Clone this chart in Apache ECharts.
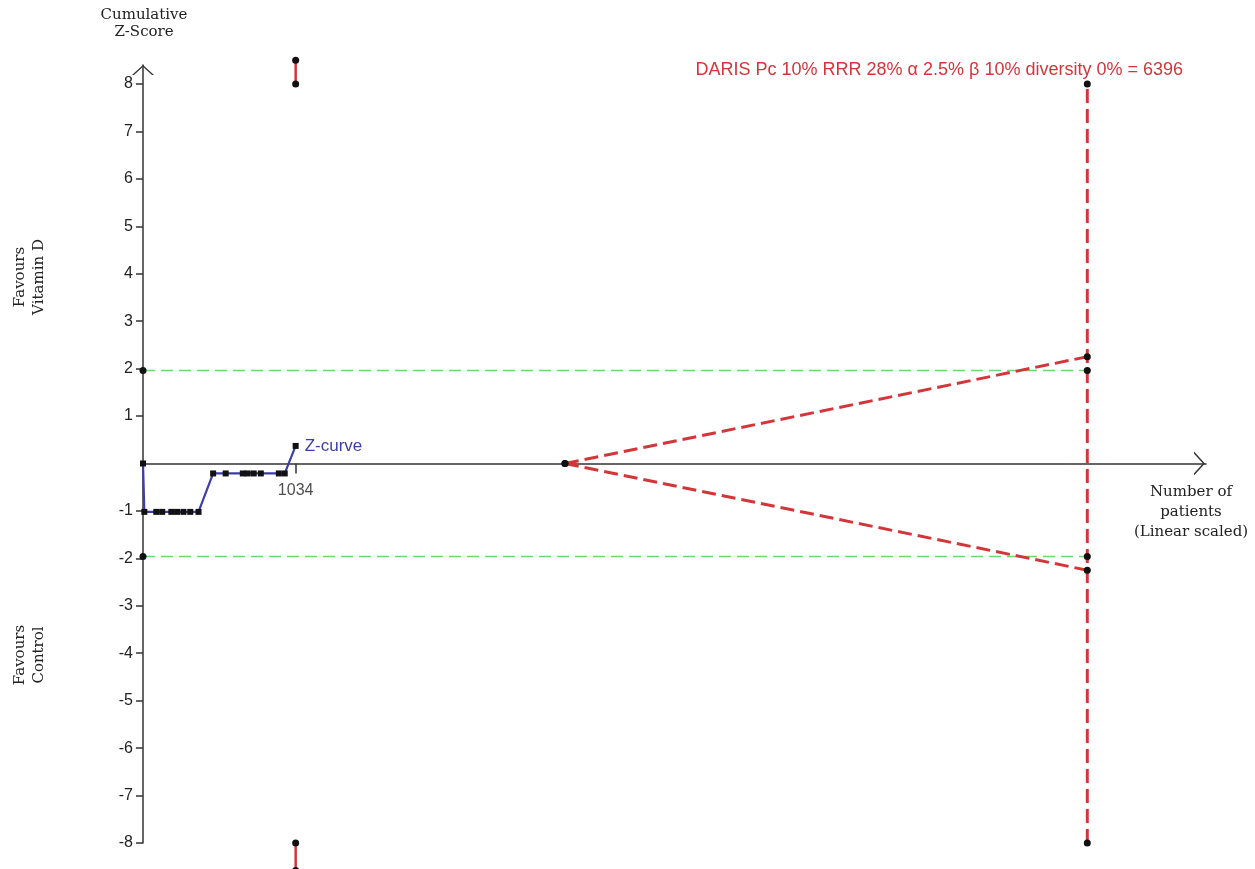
<!DOCTYPE html>
<html>
<head>
<meta charset="utf-8">
<script src="https://cdn.jsdelivr.net/npm/echarts@6/dist/echarts.min.js"></script>
<style>
  html, body { margin: 0; padding: 0; background: #ffffff; }
  #chart { width: 1255px; height: 869px; }
</style>
</head>
<body>
<div id="chart"></div>
<script>
// Cumulative Z-curve: patients accrued vs cumulative Z-score
const zPatients = [0, 9, 90, 130, 192, 231, 274, 320, 376, 475, 560, 676, 709, 750, 798, 920, 960, 1034];
const zScores   = [0, -1.02, -1.02, -1.02, -1.02, -1.02, -1.02, -1.02, -1.02,
                   -0.21, -0.21, -0.21, -0.21, -0.21, -0.21, -0.21, -0.21, 0.37];

// Required information size and boundaries
const requiredSize = 6396;
const conventionalZ = 1.96;
const wedgeStart = 2858;
const wedgeEndZ = 2.25;
const zLimit = 8;
const accrued = 1034;
const monitoringTop = [8.5, 8];
const monitoringBottom = [-8, -8.58];

// Axis ticks
const zTicks = [-8, -7, -6, -5, -4, -3, -2, -1, 1, 2, 3, 4, 5, 6, 7, 8];
const patientTicks = [1034];

const darisText = 'DARIS Pc 10% RRR 28% \u03b1 2.5% \u03b2 10% diversity 0% = ' + requiredSize;

const RED = '#d2363a';
const GREEN = '#6fd86f';
const BLUE = '#3e3ea8';
const DOT = '#111111';
const AXIS = '#333333';
const SERIF = '"DejaVu Serif", "Liberation Serif", serif';
const SANS = '"Liberation Sans", Arial, sans-serif';

// open chevron used as the arrow head on both axes (apex at the top)
const chevron = 'path://M0,10 L11,0 L22,10 L20,10 L11,1.8 L2,10 Z';

function pairs(xs, ys) { return xs.map((x, i) => [x, ys[i]]); }

function segment(data, color, width, dashed, withDots, clip) {
  return {
    type: 'line',
    data: data,
    clip: clip !== false,
    silent: true,
    symbol: withDots ? 'circle' : 'none',
    symbolSize: 7,
    itemStyle: { color: DOT },
    lineStyle: { color: color, width: width, type: dashed || 'solid' },
    z: 3
  };
}

const chart = echarts.init(document.getElementById('chart'), null, { renderer: 'canvas' });

chart.setOption({
  animation: false,
  backgroundColor: '#ffffff',
  grid: { left: 143, right: 49, top: 65, bottom: 26, containLabel: false },
  xAxis: {
    type: 'value',
    min: 0,
    max: 7200,
    splitLine: { show: false },
    axisLine: {
      show: true,
      onZero: true,
      lineStyle: { color: AXIS, width: 1.5 },
      symbol: ['none', chevron],
      symbolSize: [24, 13],
      symbolOffset: [0, -6.5]
    },
    axisTick: { show: true, length: 10, customValues: patientTicks, lineStyle: { color: AXIS, width: 1.5 } },
    axisLabel: { show: false }
  },
  yAxis: {
    type: 'value',
    min: -zLimit,
    max: 8.4,
    interval: 1,
    splitLine: { show: false },
    axisLine: {
      show: true,
      onZero: false,
      lineStyle: { color: AXIS, width: 1.5 },
      symbol: ['none', chevron],
      symbolSize: [22, 10],
      symbolOffset: [0, -5]
    },
    axisTick: { show: true, length: 7, customValues: zTicks, lineStyle: { color: AXIS, width: 1.5 } },
    axisLabel: {
      show: true, customValues: zTicks, margin: 10,
      color: '#222', fontFamily: SANS, fontSize: 16,
      formatter: v => String(v)
    }
  },
  graphic: [
    {
      type: 'text', x: 144, y: 24,
      style: { text: 'Cumulative\nZ-Score', font: '15px ' + SERIF, fill: '#222',
               textAlign: 'center', textVerticalAlign: 'middle', align: 'center', verticalAlign: 'middle', lineHeight: 17 }
    },
    {
      type: 'text', x: 30, y: 277, rotation: Math.PI / 2,
      style: { text: 'Favours\nVitamin D', font: '15px ' + SERIF, fill: '#222',
               textAlign: 'center', textVerticalAlign: 'middle', align: 'center', verticalAlign: 'middle', lineHeight: 19 }
    },
    {
      type: 'text', x: 30, y: 655, rotation: Math.PI / 2,
      style: { text: 'Favours\nControl', font: '15px ' + SERIF, fill: '#222',
               textAlign: 'center', textVerticalAlign: 'middle', align: 'center', verticalAlign: 'middle', lineHeight: 19 }
    },
    {
      type: 'text', x: 1191, y: 512,
      style: { text: 'Number of\npatients\n(Linear scaled)', font: '15px ' + SERIF, fill: '#222',
               textAlign: 'center', textVerticalAlign: 'middle', align: 'center', verticalAlign: 'middle', lineHeight: 20 }
    },
    {
      type: 'text', x: 1183, y: 70,
      style: { text: darisText, font: '18px ' + SANS, fill: RED,
               textAlign: 'right', textVerticalAlign: 'middle', align: 'right', verticalAlign: 'middle' }
    }
  ],
  series: [
    // conventional boundaries
    segment([[0, conventionalZ], [requiredSize, conventionalZ]], GREEN, 1.5, [12, 6], true),
    segment([[0, -conventionalZ], [requiredSize, -conventionalZ]], GREEN, 1.5, [12, 6], true),
    // inner wedge boundaries
    segment([[wedgeStart, 0], [requiredSize, wedgeEndZ]], RED, 3, [14, 6], true),
    segment([[wedgeStart, 0], [requiredSize, -wedgeEndZ]], RED, 3, [14, 6], true),
    // required information size
    segment([[requiredSize, -zLimit], [requiredSize, zLimit]], RED, 3, [14, 6], true),
    // monitoring boundaries beyond the plotted range
    segment([[accrued, monitoringTop[0]], [accrued, monitoringTop[1]]], RED, 2.5, 'solid', true, false),
    segment([[accrued, monitoringBottom[0]], [accrued, monitoringBottom[1]]], RED, 2.5, 'solid', true, false),
    // accrued patients label under the axis tick
    {
      type: 'scatter',
      data: [[accrued, 0]],
      symbolSize: 0,
      silent: true,
      label: { show: true, position: 'bottom', distance: 19, formatter: String(accrued),
               color: '#222', fontFamily: SANS, fontSize: 16 }
    },
    // Z-curve
    {
      type: 'line',
      data: pairs(zPatients, zScores).map((p, i, arr) => i === arr.length - 1
        ? { value: p, label: { show: true, formatter: 'Z-curve', position: 'right', distance: 6,
                               color: BLUE, fontFamily: SANS, fontSize: 17 } }
        : p),
      symbol: 'rect',
      symbolSize: 6,
      itemStyle: { color: DOT },
      lineStyle: { color: BLUE, width: 2.2 },
      silent: true,
      z: 5
    }
  ]
});
</script>
</body>
</html>
